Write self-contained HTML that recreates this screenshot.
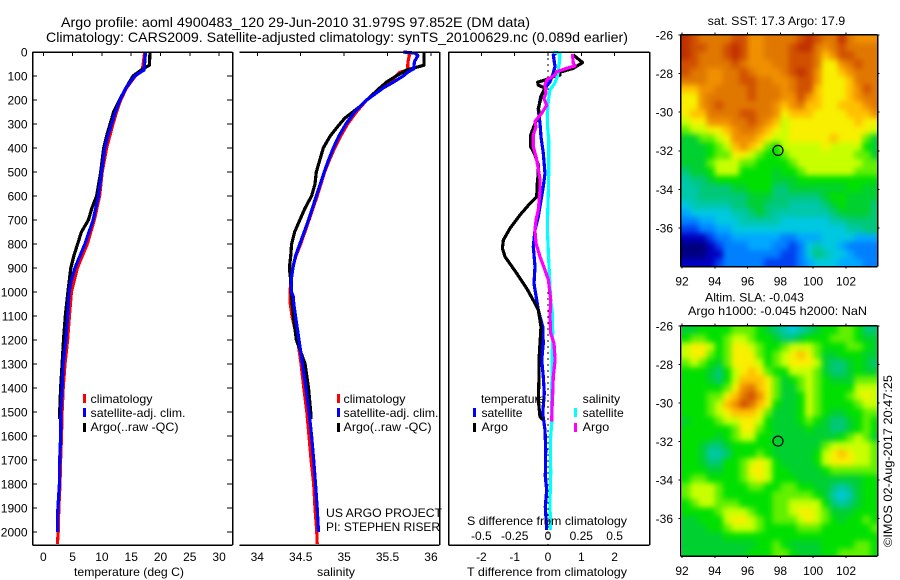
<!DOCTYPE html>
<html lang="en">
<head>
<meta charset="utf-8">
<title>Argo profile 4900483_120</title>
<style>
html,body{margin:0;padding:0;background:#fff;}
#chart{display:block;width:900px;height:580px;font-family:"Liberation Sans",Arial,sans-serif;font-size:12px;fill:#000;}
#chart text{stroke:none;}
</style>
</head>
<body>
<svg id="chart" xmlns="http://www.w3.org/2000/svg" width="900" height="580" viewBox="0 0 900 580">
  <defs>
    <filter id="soft" filterUnits="userSpaceOnUse" x="650" y="0" width="250" height="580" color-interpolation-filters="sRGB"><feGaussianBlur stdDeviation="3"/></filter>
    <clipPath id="clip-sst"><rect x="681" y="35" width="196" height="231"/></clipPath>
    <clipPath id="clip-sla"><rect x="682" y="326" width="195" height="230"/></clipPath>
  </defs>
  <text x="61" y="27" font-size="14" textLength="469" lengthAdjust="spacingAndGlyphs">Argo profile: aoml 4900483_120 29-Jun-2010 31.979S 97.852E (DM data)</text>
  <text x="46" y="42" font-size="14" textLength="582" lengthAdjust="spacingAndGlyphs">Climatology: CARS2009. Satellite-adjusted climatology: synTS_20100629.nc (0.089d earlier)</text>

  <g id="heat-sst" clip-path="url(#clip-sst)"></g>
  <g id="heat-sla" clip-path="url(#clip-sla)"></g>
  <g id="series"></g>
  <g id="axes"></g>

  <text x="74" y="576" textLength="110" lengthAdjust="spacingAndGlyphs">temperature (deg C)</text>
  <text x="317" y="576" textLength="38" lengthAdjust="spacingAndGlyphs">salinity</text>
  <text x="467" y="576" textLength="160" lengthAdjust="spacingAndGlyphs">T difference from climatology</text>
  <text x="467" y="525" textLength="160" lengthAdjust="spacingAndGlyphs">S difference from climatology</text>

  <g>
    <rect x="83" y="394" width="3" height="9" fill="#ff0000"/>
    <rect x="83" y="408" width="3" height="9" fill="#0000ff"/>
    <rect x="83" y="423" width="3" height="9" fill="#000"/>
    <text x="90.5" y="403" textLength="62" lengthAdjust="spacingAndGlyphs">climatology</text>
    <text x="90.5" y="417" textLength="95" lengthAdjust="spacingAndGlyphs">satellite-adj. clim.</text>
    <text x="90.5" y="431" textLength="88" lengthAdjust="spacingAndGlyphs">Argo(..raw -QC)</text>
  </g>
  <g>
    <rect x="337" y="394" width="3" height="9" fill="#ff0000"/>
    <rect x="337" y="408" width="3" height="9" fill="#0000ff"/>
    <rect x="337" y="423" width="3" height="9" fill="#000"/>
    <text x="343.5" y="403" textLength="62" lengthAdjust="spacingAndGlyphs">climatology</text>
    <text x="343.5" y="417" textLength="95" lengthAdjust="spacingAndGlyphs">satellite-adj. clim.</text>
    <text x="343.5" y="431" textLength="88" lengthAdjust="spacingAndGlyphs">Argo(..raw -QC)</text>
  </g>
  <text x="326" y="517" textLength="116" lengthAdjust="spacingAndGlyphs">US ARGO PROJECT</text>
  <text x="326" y="531" textLength="114" lengthAdjust="spacingAndGlyphs">PI: STEPHEN RISER</text>

  <g>
    <text x="481" y="403" textLength="64" lengthAdjust="spacingAndGlyphs">temperature</text>
    <text x="481.5" y="417" textLength="41" lengthAdjust="spacingAndGlyphs">satellite</text>
    <text x="481.5" y="431" textLength="26.5" lengthAdjust="spacingAndGlyphs">Argo</text>
    <rect x="473" y="408" width="3" height="9" fill="#0000ff"/>
    <rect x="473" y="423" width="3" height="9" fill="#000"/>
    <text x="582.7" y="403" textLength="37.5" lengthAdjust="spacingAndGlyphs">salinity</text>
    <text x="582.7" y="417" textLength="41" lengthAdjust="spacingAndGlyphs">satellite</text>
    <text x="582.7" y="431" textLength="26.5" lengthAdjust="spacingAndGlyphs">Argo</text>
    <rect x="574" y="408" width="3" height="9" fill="#00ffff"/>
    <rect x="574" y="423" width="3" height="9" fill="#ff00ff"/>
  </g>

  <text x="707.7" y="25" textLength="137.5" lengthAdjust="spacingAndGlyphs">sat. SST: 17.3 Argo: 17.9</text>
  <text x="705" y="301.5" textLength="99" lengthAdjust="spacingAndGlyphs">Altim. SLA: -0.043</text>
  <text x="688" y="315" textLength="179" lengthAdjust="spacingAndGlyphs">Argo h1000: -0.045 h2000: NaN</text>
  <text transform="translate(892,547) rotate(-90)" textLength="172" lengthAdjust="spacingAndGlyphs">©IMOS 02-Aug-2017 20:47:25</text>
</svg>

<script>
// ---------- profile data: depth (m) and values ----------
var tDepthClim = [0,40,75,100,150,200,250,300,400,500,600,700,800,900,1000,1100,1200,1300,1400,1500,1600,1700,1800,1900,2000,2050];
var tempClim = [17.3,17.1,16.9,15.7,14.2,13.2,12.5,11.9,10.8,10.05,9.6,8.7,7.5,5.8,4.8,4.45,4.15,3.7,3.4,3.2,3.1,2.95,2.85,2.65,2.55,2.4];
var tDepthSat = [0,75,100,150,200,250,300,350,400,500,600,700,800,850,900,950,1000,1100,1200,1300,1400,1500,1600,1700,1800,1900,1950,2000];
var tempSat = [17.44,17.2,15.6,14.1,13.07,12.3,11.65,11.0,10.5,9.95,9.4,8.5,7.1,6.25,5.4,4.8,4.4,4.15,3.85,3.4,3.2,3.0,2.95,2.8,2.75,2.5,2.4,2.4];
var tDepthArgo = [0,55,70,100,150,200,250,300,350,400,500,600,650,700,750,800,850,900,1000,1100,1200,1300,1400,1500,1530];
var tempArgo = [18.2,18.1,17,15.3,14.1,13,12,11.4,10.8,10.3,9.8,9.1,8.3,7.7,6.5,5.85,5.2,4.7,4.2,3.75,3.45,3.2,2.95,2.8,2.78];

var sDepthClim = [0,15,40,75,85,100,125,150,200,250,300,350,400,450,500,600,700,800,850,900,950,1000,1050,1100,1150,1200,1300,1400,1500,1600,1700,1800,1900,2000,2050];
var salClim = [35.74,35.75,35.735,35.73,35.64,35.6,35.53,35.43,35.26,35.14,35.04,34.96,34.89,34.83,34.775,34.69,34.595,34.5,34.445,34.405,34.39,34.375,34.38,34.4,34.43,34.465,34.505,34.535,34.57,34.595,34.62,34.65,34.665,34.685,34.69];
var sDepthSat = [0,5,15,40,70,85,100,125,150,200,250,300,350,400,450,500,600,700,800,850,900,950,1000,1020,1050,1100,1200,1300,1400,1500,1600,1700,1800,1900,2000];
var salSat = [35.68,35.82,35.85,35.81,35.8,35.73,35.68,35.57,35.45,35.26,35.12,35.02,34.94,34.875,34.82,34.77,34.68,34.59,34.49,34.44,34.41,34.39,34.395,34.415,34.42,34.44,34.48,34.52,34.56,34.595,34.625,34.65,34.67,34.69,34.705];
var sDepthArgo = [0,55,65,75,100,125,150,200,225,250,275,300,350,400,500,550,600,650,700,750,800,850,900,950,1000,1100,1200,1300,1400,1500,1530];
var salArgo = [35.92,35.92,35.82,35.72,35.6,35.49,35.41,35.26,35.19,35.1,35.01,34.95,34.84,34.76,34.68,34.665,34.625,34.55,34.49,34.43,34.395,34.385,34.37,34.385,34.39,34.415,34.45,34.55,34.59,34.615,34.615];

var dtDepthSat = [0,12,61,96,124,151,186,242,297,353,422,506,561,617,686,742,811,894,964,1033,1075,1144,1214,1283,1353,1422,1505,1574,1658,1769,1825,1894,1992];
var dTSat = [0.31,0.16,0.21,0.14,0.06,-0.09,-0.22,-0.29,-0.24,-0.21,-0.14,-0.09,-0.14,-0.21,-0.29,-0.39,-0.44,-0.39,-0.42,-0.34,-0.29,-0.16,-0.14,-0.19,-0.14,-0.11,-0.16,-0.09,-0.07,-0.08,-0.04,-0.08,-0.04];
var dtDepthArgo = [12,44,68,82,85,96,103,114,126,138,151,179,207,235,262,297,346,394,429,471,506,547,603,631,679,735,783,818,853,922,985,1047,1075,1144,1214,1283,1360,1450,1519,1533];
var dTArgo = [0.76,1.04,0.76,0.41,0.21,0.36,0.16,-0.04,-0.31,-0.29,-0.09,-0.19,-0.24,-0.29,-0.24,-0.39,-0.52,-0.52,-0.39,-0.29,-0.29,-0.32,-0.34,-0.54,-0.84,-1.14,-1.34,-1.37,-1.29,-0.94,-0.64,-0.39,-0.29,-0.21,-0.24,-0.27,-0.27,-0.29,-0.24,-0.16];
var dsDepthSat = [0,6,47,103,131,158,200,256,311,367,422,506,575,686,761,839,978,1033,1089,1172,1311,1450,1547,1617,1756,1867,1992];
var dSSat = [0.04,0.09,0.085,0.07,0.05,0.015,0.003,-0.005,-0.003,0.005,0.005,0.005,0.003,-0.003,-0.003,0.003,0.015,0.02,0.033,0.035,0.03,0.028,0.028,0.018,0.02,0.015,0.018];
var dsDepthArgo = [8,47,58,68,82,96,117,138,172,193,222,256,290,311,346,394,436,486,533,575,658,700,742,797,853,908,950,1033,1103,1172,1214,1283,1353,1422,1490,1540];
var dSArgo = [0.183,0.19,0.203,0.14,0.065,0.053,-0.01,-0.023,-0.015,-0.03,-0.01,-0.048,-0.098,-0.09,-0.11,-0.11,-0.09,-0.073,-0.06,-0.06,-0.073,-0.09,-0.098,-0.09,-0.06,-0.023,0.003,0.02,0.015,0.02,0.045,0.053,0.04,0.035,0.03,0.028];

// ---------- axis tick labels ----------
var depthTicks = [0,100,200,300,400,500,600,700,800,900,1000,1100,1200,1300,1400,1500,1600,1700,1800,1900,2000];
var tempTicks = [0,5,10,15,20,25,30];
var salTicks = [34,34.5,35,35.5,36];
var salTickLabels = ['34','34.5','35','35.5','36'];
var dTTicks = [-2,-1,0,1,2];
var dTTickLabels = ['-2','-1','0','1','2'];
var dSTicks = [-0.5,-0.25,0,0.25,0.5];
var dSTickLabels = ['-0.5','-0.25','0','0.25','0.5'];
var lonTicks = [92,94,96,98,100,102];
var latTicks = [26,28,30,32,34,36];
var profileLon = 97.852;
var profileLat = 31.979;

// ---------- map grids: colour-level values, 24 columns (92-104E) x 28 rows (26-38S) ----------
var sstGrid = [
[17,16,15,15,15,15,16,16,14,14,15,15,15,15,16,17,16,15,15,17,15,14,14,14],
[17,16,16,15,15,16,17,16,14,14,15,15,15,16,17,17,15,14,15,16,15,15,15,15],
[17,16,15,15,15,16,17,16,14,14,15,15,15,16,16,16,15,13,14,16,16,15,15,15],
[16,16,15,15,15,15,16,15,14,14,14,15,15,16,16,16,15,12,12,14,15,16,15,15],
[16,15,15,14,14,15,15,16,15,14,14,14,15,16,17,16,14,12,12,13,14,15,15,15],
[15,15,15,14,14,15,15,16,16,15,15,14,14,15,16,16,14,12,12,12,13,15,15,15],
[13,13,14,14,15,15,15,15,16,15,15,15,14,15,16,16,13,12,12,12,13,14,16,15],
[12,12,14,15,15,15,15,15,16,15,15,15,14,14,16,14,13,12,12,12,13,14,15,15],
[12,12,14,15,16,15,15,15,15,15,15,14,13,14,15,13,13,12,12,13,13,13,14,15],
[12,13,13,15,15,15,15,16,16,15,15,14,12,13,13,13,12,12,12,12,13,13,13,14],
[11,12,12,14,14,14,15,15,16,15,14,13,11,12,12,12,12,12,12,12,12,13,12,12],
[10,11,11,12,12,13,14,15,15,14,13,12,11,12,12,12,12,12,12,12,12,12,12,11],
[8,8,10,10,11,12,14,14,14,13,12,11,11,12,12,12,12,12,13,12,12,12,10,8],
[8,8,8,9,10,11,13,14,13,12,10,9,11,11,11,11,11,12,11,11,11,11,9,8],
[8,8,8,9,10,10,12,12,11,10,9,9,10,11,11,11,11,11,11,11,11,10,10,8],
[8,8,8,10,11,11,11,10,10,9,9,9,9,10,11,11,11,11,11,11,11,11,10,10],
[7,8,8,9,11,11,11,9,9,9,9,8,9,9,10,11,11,11,11,11,11,10,10,10],
[6,7,7,8,9,9,9,9,9,9,9,8,8,8,9,9,9,9,9,9,9,9,9,9],
[6,6,7,7,7,7,8,8,9,9,9,7,7,8,8,8,8,8,8,8,9,9,8,8],
[6,6,7,7,7,7,7,7,8,8,8,7,7,7,7,7,7,8,9,9,8,8,8,8],
[5,6,6,6,6,6,7,7,8,8,7,7,7,6,6,6,6,7,8,9,8,8,8,7],
[4,5,5,5,5,5,6,6,7,8,7,6,6,6,6,6,6,6,7,8,8,8,8,7],
[3,3,4,4,5,5,5,6,6,6,6,6,5,5,5,5,5,5,6,6,7,7,7,7],
[2,2,3,3,4,4,5,5,5,5,5,5,5,5,5,5,5,5,5,5,6,6,7,7],
[1,1,1,2,3,3,4,4,4,4,4,4,3,3,4,4,4,5,5,5,5,4,4,4],
[0,0,0,1,2,3,3,3,4,4,4,3,3,2,3,5,6,5,5,4,3,3,3,3],
[0,0,0,1,1,3,3,3,3,3,3,3,2,2,3,5,7,6,5,5,4,3,3,3],
[1,1,1,1,2,3,3,3,3,3,2,2,2,2,3,4,5,5,5,4,4,4,3,3]
];
var slaGrid = [
[8,8,9,9,9,9,10,10,10,9,8,7,6,5,6,7,8,9,9,10,10,9,7,7],
[9,10,10,9,9,10,11,11,10,9,9,8,7,7,8,9,9,9,10,10,10,9,8,8],
[11,12,12,11,9,10,12,12,11,10,9,9,10,11,11,11,10,9,9,9,10,10,9,8],
[11,12,12,10,9,10,12,12,12,10,9,10,11,12,13,12,10,8,8,9,9,9,8,8],
[10,11,10,9,8,10,12,12,12,11,9,10,11,12,12,12,11,8,7,7,8,9,8,7],
[9,9,9,8,7,9,11,12,13,12,10,9,9,11,11,11,10,8,7,7,8,9,8,8],
[9,9,9,8,7,9,11,13,13,13,12,10,8,9,10,11,10,9,8,8,8,10,10,10],
[9,9,9,9,9,10,12,14,15,13,12,10,8,8,10,11,10,9,9,9,9,11,11,11],
[9,9,9,10,10,12,13,15,16,14,12,10,8,8,9,11,10,9,9,9,10,11,12,11],
[9,9,9,10,11,13,14,16,15,13,12,9,8,8,9,11,10,9,9,9,9,10,11,11],
[9,9,9,10,11,12,13,13,13,12,10,8,8,8,9,11,10,9,8,8,9,9,10,10],
[8,9,9,9,10,11,11,12,12,11,9,8,8,8,9,10,9,8,7,7,8,9,10,9],
[9,9,9,9,9,9,10,12,12,10,9,8,8,8,8,9,8,8,7,7,8,9,10,9],
[9,9,9,9,8,9,10,11,11,9,9,8,8,8,8,8,8,8,8,9,10,11,10,8],
[9,9,8,7,7,8,9,9,9,9,9,8,8,8,8,8,8,10,11,11,11,11,11,10],
[9,9,8,6,6,7,9,9,9,10,9,8,8,8,8,8,9,11,12,13,12,11,11,10],
[9,9,8,7,7,9,9,10,11,12,11,9,8,8,8,8,9,11,12,12,12,11,11,10],
[9,9,9,8,8,9,9,10,12,12,11,9,9,8,8,8,8,9,10,10,10,10,10,10],
[9,10,10,9,9,9,9,10,11,12,11,9,9,9,8,8,8,8,8,8,8,8,9,9],
[10,11,11,11,10,9,9,9,10,10,9,9,10,10,9,9,8,8,7,6,7,8,9,9],
[10,11,11,11,10,9,9,9,9,9,9,10,10,10,10,10,9,8,6,5,6,8,9,9],
[9,10,11,11,10,10,10,9,9,9,9,10,10,11,11,11,11,9,7,6,7,8,9,9],
[9,9,9,9,10,11,11,11,10,9,9,10,10,11,12,12,11,10,8,8,8,9,9,9],
[8,8,9,9,9,11,12,12,11,10,9,10,10,10,11,12,11,10,9,8,9,9,10,9],
[8,8,8,9,9,10,11,11,11,10,9,9,9,9,10,10,10,9,9,9,9,9,9,10],
[8,8,8,8,8,9,9,9,9,9,9,9,9,9,9,9,9,9,9,9,9,9,9,9],
[8,8,8,8,8,8,8,8,8,9,9,10,9,8,8,8,8,9,9,9,9,10,10,9],
[8,8,8,8,8,8,8,8,9,9,9,10,10,9,8,8,8,9,9,10,10,10,10,9]
];
var palette = ['#00007f','#0000c0','#0040f0','#0080ff','#00a8ff','#00c8e0','#00c8a8','#00c878','#00d030','#00e000','#60f000','#c8ff00','#f8f000','#ffc000','#f09000','#e07800','#d05000','#c03000'];

// ---------- scales ----------
var NS = 'http://www.w3.org/2000/svg';
var panelTop = 52, panelBottom = 545;
function yDepth(d){ return panelTop + 0.24 * d; }
function xTemp(v){ return 43.3 + 5.86 * v; }
function xSal(v){ return 257.3 + 86.83 * (v - 34); }
function xDT(v){ return 548 + 33.3 * v; }
function xDS(v){ return 548 + 133.2 * v; }
function xLon(v){ return 682 + 16.4 * (v - 92); }
function ySstLat(v){ return 35 + 19.3 * (v - 26); }
function ySlaLat(v){ return 326 + 19.25 * (v - 26); }

function make(parent, tag, attrs, name){
  var el = document.createElementNS(NS, tag);
  for (var k in attrs) el.setAttribute(k, attrs[k]);
  
  
  parent.appendChild(el);
  return el;
}
function label(parent, x, y, str, anchor, name){
  var t = make(parent, 'text', {x:x, y:y, 'text-anchor':anchor}, name);
  t.textContent = str;
  return t;
}
function seg(parent, x1, y1, x2, y2, w, name){
  return make(parent, 'line', {x1:x1, y1:y1, x2:x2, y2:y2, stroke:'#000', 'stroke-width':w, 'shape-rendering':'crispEdges'}, name);
}

// ---------- axes ----------
var axes = document.getElementById('axes');
var series = document.getElementById('series');

// panel 1 frame
seg(axes, 32.5, panelTop, 232.5, panelTop, 1.5, 'temperature-top-axis');
seg(axes, 32.5, panelBottom, 232.5, panelBottom, 1.5, 'temperature-bottom-axis');
seg(axes, 32.5, panelTop, 32.5, panelBottom, 1.5, 'temperature-left-axis');
seg(axes, 232.5, panelTop, 232.5, panelBottom, 1.5, 'temperature-right-axis');
// panel 2 frame
seg(axes, 239.5, panelTop, 439.5, panelTop, 1.5, 'salinity-top-axis');
seg(axes, 239.5, panelBottom, 439.5, panelBottom, 1.5, 'salinity-bottom-axis');
seg(axes, 439.5, panelTop, 439.5, panelBottom, 1.5, 'salinity-right-axis');
// panel 3 frame
seg(axes, 448.5, panelTop, 649.5, panelTop, 1.5, 'difference-top-axis');
seg(axes, 448.5, panelBottom, 649.5, panelBottom, 1.5, 'difference-bottom-axis');
seg(axes, 448.5, panelTop, 448.5, panelBottom, 1.5, 'difference-left-axis');
seg(axes, 649.5, panelTop, 649.5, panelBottom, 1.5, 'difference-right-axis');

depthTicks.forEach(function(d){
  var y = yDepth(d);
  seg(axes, 32.5, y, 37, y, 1, 'depth-tick-left');
  seg(axes, 227, y, 232.5, y, 1, 'depth-tick-right');
  label(axes, 27.5, y + 4.4, String(d), 'end', 'depth-tick-label');
});
tempTicks.forEach(function(v){
  var x = xTemp(v);
  seg(axes, x, panelTop, x, panelTop + 4, 1, 'temperature-tick');
  label(axes, x, 561, String(v), 'middle', 'temperature-tick-label');
});
salTicks.forEach(function(v, i){
  var x = xSal(v);
  seg(axes, x, panelTop, x, panelTop + 4, 1, 'salinity-tick');
  label(axes, x, 561, salTickLabels[i], 'middle', 'salinity-tick-label');
});
dTTicks.forEach(function(v, i){
  var x = xDT(v);
  seg(axes, x, panelTop, x, panelTop + 4, 1, 'difference-tick');
  label(axes, x, 561, dTTickLabels[i], 'middle', 't-difference-tick-label');
});
dSTicks.forEach(function(v, i){
  label(axes, xDS(v), 540, dSTickLabels[i], 'middle', 's-difference-tick-label');
});

// ---------- profile lines ----------
function profile(depths, values, xScale, color, width, name){
  var pts = depths.map(function(d, i){ return xScale(values[i]).toFixed(1) + ',' + yDepth(d).toFixed(1); }).join(' ');
  return make(series, 'polyline', {points:pts, fill:'none', stroke:color, 'stroke-width':width, 'shape-rendering':'crispEdges', 'stroke-linejoin':'round'}, name);
}
profile(tDepthClim, tempClim, xTemp, '#ff0000', 3.2, 'temperature-climatology-line');
profile(tDepthArgo, tempArgo, xTemp, '#000000', 3.2, 'temperature-argo-line');
profile(tDepthSat, tempSat, xTemp, '#0000ff', 3.2, 'temperature-satellite-line');

profile(sDepthClim, salClim, xSal, '#ff0000', 3.2, 'salinity-climatology-line');
profile(sDepthArgo, salArgo, xSal, '#000000', 3.2, 'salinity-argo-line');
profile(sDepthSat, salSat, xSal, '#0000ff', 3.2, 'salinity-satellite-line');

make(series, 'line', {x1:xDT(0), y1:panelTop, x2:xDT(0), y2:panelBottom, stroke:'#000', 'stroke-width':1, 'stroke-dasharray':'2 4', 'shape-rendering':'crispEdges'}, 'zero-difference-line');
profile(dtDepthSat, dTSat, xDT, '#0000ff', 3.2, 'difference-t-satellite-line');
profile(dtDepthArgo, dTArgo, xDT, '#000000', 3.2, 'difference-t-argo-line');
profile(dsDepthSat, dSSat, xDS, '#00ffff', 3.2, 'difference-s-satellite-line');
profile(dsDepthArgo, dSArgo, xDS, '#ff00ff', 3.2, 'difference-s-argo-line');

// ---------- maps ----------
function drawMap(groupId, grid, yLat, name){
  var root = document.getElementById(groupId);
  var g = make(root, 'g', {filter:'url(#soft)'}, name + '-cells');
  var rows = grid.length, cols = grid[0].length;
  var x0 = xLon(92), y0 = yLat(26);
  var cw = (xLon(104) - x0) / cols, ch = (yLat(38) - y0) / rows;
  var pad = 12;
  grid.forEach(function(row, r){
    row.forEach(function(v, c){
      // edge cells are extended past the frame so the smoothing does not fade at the borders
      var left = x0 + c * cw - (c === 0 ? pad : 0);
      var top = y0 + r * ch - (r === 0 ? pad : 0);
      var right = x0 + (c + 1) * cw + (c === cols - 1 ? pad : 0.6);
      var bottom = y0 + (r + 1) * ch + (r === rows - 1 ? pad : 0.6);
      make(g, 'rect', {x:left.toFixed(2), y:top.toFixed(2), width:(right - left).toFixed(2), height:(bottom - top).toFixed(2), fill:palette[v]}, name + '-cell');
    });
  });
}
function drawMapAxes(yLat, top, bottom, name){
  var left = 680.5, right = 877.5;
  seg(axes, left, top, right, top, 1.5, name + '-frame-top');
  seg(axes, left, bottom, right, bottom, 1.5, name + '-frame-bottom');
  seg(axes, left, top, left, bottom, 1.5, name + '-frame-left');
  seg(axes, right, top, right, bottom, 1.5, name + '-frame-right');
  lonTicks.forEach(function(v){
    var x = xLon(v);
    seg(axes, x, top - 2, x, top, 1, name + '-lon-tick');
    seg(axes, x, bottom, x, bottom + 2, 1, name + '-lon-tick');
    label(axes, x, bottom + 19, String(v), 'middle', name + '-lon-label');
  });
  latTicks.forEach(function(v){
    var y = yLat(v);
    seg(axes, left - 2, y, left, y, 1, name + '-lat-tick');
    seg(axes, right, y, right + 2, y, 1, name + '-lat-tick');
    label(axes, 673, y + 4.4, '-' + v, 'end', name + '-lat-label');
  });
  make(axes, 'circle', {cx:xLon(profileLon).toFixed(1), cy:yLat(profileLat).toFixed(1), r:5, fill:'none', stroke:'#000', 'stroke-width':1.2}, name + '-profile-marker');
}
drawMap('heat-sst', sstGrid, ySstLat, 'sst-map');
drawMap('heat-sla', slaGrid, ySlaLat, 'sla-map');
drawMapAxes(ySstLat, 34.5, 266.5, 'sst-map');
drawMapAxes(ySlaLat, 325.5, 556, 'sla-map');
</script>
</body>
</html>
